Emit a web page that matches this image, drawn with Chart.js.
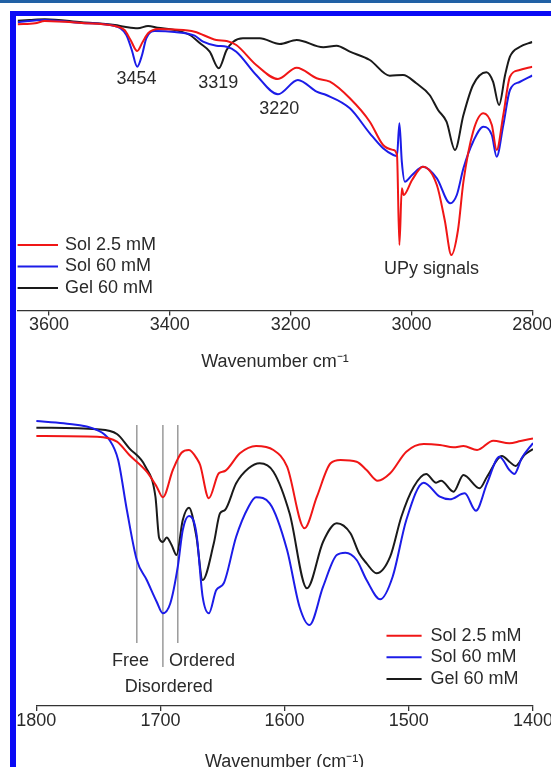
<!DOCTYPE html>
<html><head><meta charset="utf-8">
<script src="https://cdn.jsdelivr.net/npm/chart.js@4.4.1/dist/chart.umd.min.js"></script>
<style>
html,body{margin:0;padding:0;background:#fff;overflow:hidden;width:551px;height:767px;}
#band{position:absolute;left:0;top:0;width:551px;height:3px;background:#2161a5;}
#frameTop{position:absolute;left:10px;top:11px;width:541px;height:5px;background:#0a0af5;}
#frameLeft{position:absolute;left:10px;top:11px;width:6px;height:756px;background:#0a0af5;}
canvas{position:absolute;left:0;}
#topChart{top:0;width:551px;height:380px;}
#botChart{top:400px;width:551px;height:380px;}
</style></head><body>
<div id="band"></div><div id="frameTop"></div><div id="frameLeft"></div>
<canvas id="topChart" width="551" height="380"></canvas>
<canvas id="botChart" width="551" height="380"></canvas>
<script>
// ---------- data (transmittance, arbitrary units) ----------
const seriesNames = ['Sol 2.5 mM', 'Sol 60 mM', 'Gel 60 mM'];

// top panel: 3652-2800 cm-1
const topTicks = [3600, 3400, 3200, 3000, 2800];
const topSol25Wn = [3652,3623,3607,3546,3491,3475,3465,3454,3445,3436,3419,3392,3359,3323,3306,3290,3257,3221,3190,3157,3135,3102,3069,3047,3030,3024,3020,3016,3013,2999,2981,2958,2945,2934,2923,2914,2898,2881,2867,2859,2848,2837,2821,2800];
const topSol25T  = [286.2,287.2,289.5,287.5,284.5,280.5,270.5,259.5,268.5,277.2,281.5,281,278.8,270.5,269.5,265.5,245.5,231.5,242.8,232.2,228.8,212.2,188.8,165.5,160.5,155.5,65.5,122.2,115.5,130.5,143.8,125.5,90.5,55.5,80.5,128.8,178.8,197.2,185.5,160.5,195.5,233.8,240.5,243.7];
const topSol60Wn = [3652,3607,3546,3491,3472,3463,3454,3446,3439,3425,3392,3359,3345,3323,3306,3290,3257,3221,3188,3157,3141,3102,3069,3047,3030,3024,3020,3016,3011,2999,2981,2958,2936,2925,2914,2898,2881,2867,2859,2848,2837,2821,2800];
const topSol60T  = [288.2,290.5,287.5,284.5,275.5,260.5,243.8,255.5,272.2,279.5,278.5,274.8,268.8,264.8,263.8,258.8,235.5,216.2,230.5,218.8,215.5,202.2,177.2,162.2,155.5,154.5,187.2,148.8,128.8,135.5,143.8,132.2,107.2,115.5,142.2,168.8,183.8,175.5,153.8,185.5,220.5,228.5,235];
const topGel60Wn = [3652,3632,3607,3546,3491,3475,3453,3436,3420,3392,3367,3350,3334,3319,3306,3295,3279,3251,3218,3190,3146,3124,3102,3069,3036,3014,2992,2970,2956,2942,2928,2914,2898,2876,2865,2855,2845,2837,2821,2800];
const topGel60T  = [289.8,290.5,291.2,288.2,285.5,283.8,282.2,284.5,282.8,280.5,275.5,267.2,258.8,242.2,260.5,268.8,272.2,272.2,266.5,270.5,263.2,264.8,258.8,250.5,234.8,235.5,227.2,215.5,200.5,188.8,160.5,195.5,225.5,238.2,228.8,205.5,235.5,253.8,263.5,268.5];
const topLabels   = ['3454', '3319', '3220', 'UPy signals'];
const topLabelWn  = [3455, 3320, 3219, 2967];
const topLabelT   = [231.5, 227.2, 201.2, 41.5];

// bottom panel: 1800-1400 cm-1
const botTicks = [1800, 1700, 1600, 1500, 1400];
const botSol25Wn = [1800,1751,1735,1725,1711,1703,1698,1690,1683,1677,1670,1668,1661,1653,1648,1636,1623,1609,1598,1584,1574,1563,1555,1542,1534,1525,1515,1502,1488,1475,1464,1456,1445,1432,1419,1410,1400];
const botSol25T  = [270,269.3,264.3,251,234.3,219.3,208.7,236,253.3,256,246,241,207.7,232.7,235,252.7,260,256,239.3,177.7,209.3,242.7,246,244.3,236,225.3,232.7,254.3,262,261,258.7,260,256,265.3,262.7,265,267.5];
const botSol60Wn = [1800,1778,1751,1741,1734,1727,1719,1711,1703,1698,1692,1686,1682,1677,1671,1666,1661,1655,1649,1639,1629,1623,1612,1598,1588,1580,1569,1558,1551,1542,1534,1523,1513,1502,1488,1475,1467,1455,1446,1437,1427,1419,1415,1409,1400];
const botSol60T  = [285,282.7,276,266,246,196,146,126,104.3,92.7,102.7,139.3,176,190,172.7,109.3,92.7,116,122.7,169.3,199.3,208.7,202.7,156,99.3,81,119.3,151,153.3,146,126,106.7,129.3,186,223.3,209.3,206.7,212.7,195.3,222.7,249.3,236,232,248,263];
const botGel60Wn = [1800,1751,1735,1725,1712,1704,1701,1698,1695,1691,1687,1682,1677,1671,1666,1657,1652,1648,1639,1629,1620,1609,1596,1582,1569,1558,1547,1540,1534,1526,1515,1506,1496,1486,1478,1474,1464,1456,1443,1437,1425,1419,1414,1407,1400];
const botGel60T  = [278.3,276.7,272,257.7,239.3,209.3,168,164,168.5,161,151,186,198.3,169.3,126,162.7,192.7,196,222.7,237.7,242.7,234.3,192.7,117.7,164.3,182.7,172.7,152.7,142.7,132.7,149.3,189.3,219.3,232,223.3,225.3,214.3,231,217.7,229.3,250,244.3,240,251,257];
const markerWn     = [1719, 1698, 1686];
const markerTopT   = [281, 281, 281];
const markerBotT   = [63, 39, 63];
const botLabels    = ['Free', 'Ordered', 'Disordered'];
const botLabelWn   = [1724, 1666.5, 1693.3];
const botLabelT    = [45, 45, 18.7];

// ---------- styles ----------
const FONT = '"Liberation Sans", Arial, Helvetica, sans-serif';
const COLORS = ['#f01616', '#1c1ce8', '#1a1a1a'];
const TXT = '#2a2a2a';

function pts(xs, ys){ return xs.map((x,i)=>({x:x, y:ys[i]})); }
function curve(label, xs, ys, color){
  return {label, data: pts(xs, ys), borderColor: color, backgroundColor: color,
          borderWidth: 2, pointRadius: 0, cubicInterpolationMode: 'monotone', fill: false};
}

const annot = {
  id: 'annot',
  afterDraw(chart, args, opts){
    const ctx = chart.ctx, xs = chart.scales.x, ys = chart.scales.y;
    ctx.save();
    ctx.font = '18px ' + FONT;
    ctx.fillStyle = TXT;
    ctx.textAlign = 'center';
    ctx.textBaseline = 'middle';
    opts.labels.forEach((t,i)=>{
      ctx.fillText(t, xs.getPixelForValue(opts.wn[i]), ys.getPixelForValue(opts.t[i]));
    });
    // legend
    const L = opts.legend;
    chart.data.datasets.slice(0,3).forEach((ds,i)=>{
      const y = L.y + i*L.dy;
      ctx.strokeStyle = ds.borderColor; ctx.lineWidth = 2;
      ctx.beginPath(); ctx.moveTo(L.x0, y); ctx.lineTo(L.x1, y); ctx.stroke();
      ctx.textAlign = 'left';
      ctx.fillText(ds.label, L.tx, y);
    });
    ctx.restore();
  }
};

function axisX(min, max, ticks, title, height, titlePadBottom){
  return {
    type: 'linear', min, max, reverse: true,
    afterBuildTicks: s => { s.ticks = ticks.map(v=>({value:v})); },
    afterFit: s => { s.height = height; s.paddingLeft = 0; s.paddingRight = 0; },
    ticks: {font:{size:18, family:FONT}, color:TXT, padding:-1, maxRotation:0, autoSkip:false,
            callback: v => String(v)},
    grid: {drawOnChartArea:false, drawTicks:true, tickLength:5, color:'#333', lineWidth:1.3},
    border: {display:true, color:'#333', width:1.3},
    title: {display:true, text:title, font:{size:18, family:FONT}, color:TXT,
            padding:{top:0, bottom:titlePadBottom}}
  };
}

new Chart(document.getElementById('topChart'), {
  type: 'line',
  data: {datasets: [
    curve(seriesNames[0], topSol25Wn, topSol25T, COLORS[0]),
    curve(seriesNames[1], topSol60Wn, topSol60T, COLORS[1]),
    curve(seriesNames[2], topGel60Wn, topGel60T, COLORS[2])
  ]},
  options: {
    responsive:false, animation:false, devicePixelRatio:1,
    layout: {padding:{left:17.6, right:18.7, top:16, bottom:0}},
    scales: {
      x: axisX(2800, 3652, topTicks, 'Wavenumber cm\u207B\u00B9', 69.5, 7.5),
      y: {display:false, min:0, max:294.5}
    },
    plugins: {legend:{display:false}, tooltip:{enabled:false},
      annot: {labels: topLabels, wn: topLabelWn, t: topLabelT,
              legend: {x0:17.6, x1:58, tx:65, y:245, dy:21.5}}}
  },
  plugins: [annot]
});

const markerSets = markerWn.map((w,i)=>({
  label: 'marker', data: [{x:w, y:markerTopT[i]}, {x:w, y:markerBotT[i]}],
  borderColor:'#9a9a9a', borderWidth:1.5, pointRadius:0, fill:false
}));

new Chart(document.getElementById('botChart'), {
  type: 'line',
  data: {datasets: [
    curve(seriesNames[0], botSol25Wn, botSol25T, COLORS[0]),
    curve(seriesNames[1], botSol60Wn, botSol60T, COLORS[1]),
    curve(seriesNames[2], botGel60Wn, botGel60T, COLORS[2])
  ].concat(markerSets)},
  options: {
    responsive:false, animation:false, devicePixelRatio:1,
    layout: {padding:{left:36.2, right:18, top:10, bottom:0}},
    scales: {
      x: axisX(1400, 1800, botTicks, 'Wavenumber (cm\u207B\u00B9)', 74, 7.2),
      y: {display:false, min:0, max:296}
    },
    plugins: {legend:{display:false}, tooltip:{enabled:false},
      annot: {labels: botLabels, wn: botLabelWn, t: botLabelT,
              legend: {x0:386.5, x1:421.6, tx:430.4, y:235.7, dy:21.6}}}
  },
  plugins: [annot]
});
</script>
</body></html>
